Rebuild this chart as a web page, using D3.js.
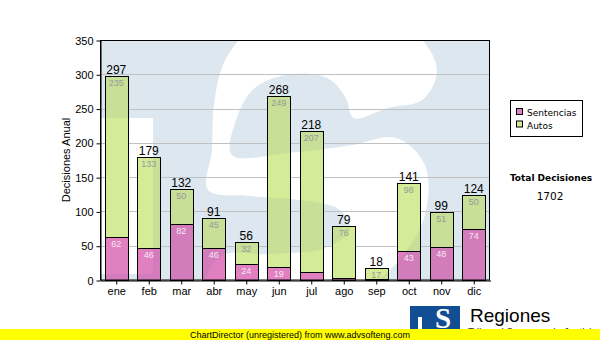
<!DOCTYPE html>
<html>
<head>
<meta charset="utf-8">
<script src="https://cdn.jsdelivr.net/npm/d3@7/dist/d3.min.js"></script>
<style>
  html, body { margin: 0; padding: 0; background: #ffffff; }
  svg { display: block; }
  text { font-family: "Liberation Sans", Arial, sans-serif; }
</style>
</head>
<body>
<svg id="chart" width="600" height="340"></svg>
<script>
// Monthly decisions, split by type
const months = ["ene", "feb", "mar", "abr", "may", "jun", "jul", "ago", "sep", "oct", "nov", "dic"];
const sentencias = [62, 46, 82, 46, 24, 19, 11, 3, 1, 43, 48, 74];
const autos = [235, 133, 50, 45, 32, 249, 207, 76, 17, 98, 51, 50];
const seriesNames = ["Sentencias", "Autos"];
const yTicks = [0, 50, 100, 150, 200, 250, 300, 350];
const totalLabel = "Total Decisiones";

const totals = months.map((m, i) => sentencias[i] + autos[i]);
const grandTotal = d3.sum(totals);

const W = 600, H = 340;
const plot = { left: 100, right: 490, top: 40, bottom: 280 };
const colors = { sentencias: "#e080c0", autos: "#d4eb98", wash: "#dde7f0" };

const svg = d3.select("#chart");
const defs = svg.append("defs");

const x = d3.scaleBand().domain(months).range([plot.left, plot.right])
  .paddingInner(0.28).paddingOuter(0.14);
const y = d3.scaleLinear().domain([0, 350]).range([plot.bottom, plot.top]);

// Background logo watermark: light wash with a white "S" and a white band cut out
const pw = plot.right - plot.left, ph = plot.bottom - plot.top;
const px = fx => plot.left + fx * pw, py = fy => plot.top + fy * ph;
const sOutline = [
  [0.650,0.325],[0.738,0.283],[0.826,0.250],[0.864,0.125],[0.813,-0.021],[0.667,-0.133],
  [0.513,-0.158],[0.397,-0.063],[0.321,0.083],[0.292,0.271],[0.287,0.458],[0.277,0.625],
  [0.385,0.650],[0.513,0.667],[0.615,0.708],[0.641,0.792],[0.577,0.867],[0.436,0.892],
  [0.310,0.900],[0.270,1.042],[0.410,1.104],[0.615,1.083],[0.756,0.938],[0.833,0.729],
  [0.833,0.521],[0.760,0.408],[0.640,0.440],[0.487,0.470],[0.338,0.479],[0.349,0.333],
  [0.397,0.200],[0.492,0.142],[0.585,0.160],[0.630,0.240]
];
const bandRect = { x0: 0, x1: 0.136, y0: 0.325, y1: 0.975 };

const clip = defs.append("clipPath").attr("id", "plotClip");
clip.append("rect").attr("x", plot.left).attr("y", plot.top).attr("width", pw).attr("height", ph);

const mask = defs.append("mask").attr("id", "washMask")
  .attr("maskUnits", "userSpaceOnUse").attr("x", 0).attr("y", 0).attr("width", W).attr("height", H);
mask.append("rect").attr("x", plot.left).attr("y", plot.top).attr("width", pw).attr("height", ph).attr("fill", "#fff");
mask.append("rect")
  .attr("x", px(bandRect.x0)).attr("y", py(bandRect.y0))
  .attr("width", px(bandRect.x1) - px(bandRect.x0)).attr("height", py(bandRect.y1) - py(bandRect.y0))
  .attr("fill", "#000");
mask.append("path")
  .attr("d", d3.line().x(d => px(d[0])).y(d => py(d[1])).curve(d3.curveCatmullRomClosed.alpha(0.5))(sOutline))
  .attr("fill", "#000");

const plotG = svg.append("g").attr("clip-path", "url(#plotClip)");
plotG.append("rect")
  .attr("x", plot.left).attr("y", plot.top).attr("width", pw).attr("height", ph)
  .attr("fill", colors.wash).attr("mask", "url(#washMask)");

// Horizontal grid
plotG.selectAll("line.grid").data(yTicks.filter(v => v > 0 && v < 350)).join("line")
  .attr("class", "grid")
  .attr("x1", plot.left).attr("x2", plot.right)
  .attr("y1", d => Math.round(y(d)) + 0.5).attr("y2", d => Math.round(y(d)) + 0.5)
  .attr("stroke", "#c0c0c0").attr("stroke-width", 1);

// Stacked bars
const bx = d => Math.round(x(d)) + 0.5;
const bw = Math.round(x.bandwidth());
const rows = months.map((m, i) => ({ m, s: sentencias[i], a: autos[i], t: totals[i] }));
const segs = [];
rows.forEach(r => {
  segs.push({ m: r.m, y0: 0, y1: r.s, fill: colors.sentencias });
  segs.push({ m: r.m, y0: r.s, y1: r.s + r.a, fill: colors.autos });
});
const barG = svg.append("g");
barG.selectAll("rect").data(segs).join("rect")
  .attr("x", d => bx(d.m)).attr("width", bw)
  .attr("y", d => Math.round(y(d.y1)) + 0.5)
  .attr("height", d => Math.round(y(d.y0)) - Math.round(y(d.y1)))
  .attr("fill", d => d.fill).attr("stroke", "#000").attr("stroke-width", 1);

// Watermark tint showing through the bars
svg.append("g").attr("mask", "url(#washMask)")
  .selectAll("rect").data(segs).join("rect")
  .attr("x", d => bx(d.m) + 0.5).attr("width", bw - 1)
  .attr("y", d => Math.round(y(d.y1)) + 1)
  .attr("height", d => Math.max(0, Math.round(y(d.y0)) - Math.round(y(d.y1)) - 1))
  .attr("fill", "#1a4a80").attr("fill-opacity", 0.07);

// Segment value labels
const cx = d => x(d) + x.bandwidth() / 2;
svg.append("g").selectAll("text").data(rows.filter(r => r.a >= 10)).join("text")
  .attr("x", d => cx(d.m)).attr("y", d => y(d.t) + 10)
  .attr("text-anchor", "middle").attr("font-size", "9px").attr("fill", "#999999")
  .text(d => d.a);
svg.append("g").selectAll("text").data(rows.filter(r => r.s >= 15)).join("text")
  .attr("x", d => cx(d.m)).attr("y", d => y(d.s) + 10)
  .attr("text-anchor", "middle").attr("font-size", "9px").attr("fill", "#f8e6f3")
  .text(d => d.s);

// Totals above bars
svg.append("g").selectAll("text").data(rows).join("text")
  .attr("x", d => cx(d.m)).attr("y", d => y(d.t) - 2)
  .attr("text-anchor", "middle").attr("font-size", "12px").attr("fill", "#000")
  .text(d => d.t);

// Plot frame
svg.append("rect")
  .attr("x", plot.left + 0.5).attr("y", plot.top + 0.5)
  .attr("width", pw - 1).attr("height", ph - 0.5)
  .attr("fill", "none").attr("stroke", "#000").attr("stroke-width", 1);

// Axes
const yAxis = svg.append("g").attr("transform", `translate(${plot.left + 0.5},0.5)`)
  .call(d3.axisLeft(y).tickValues(yTicks).tickSize(4).tickSizeOuter(0).tickPadding(3));
yAxis.selectAll("text").attr("font-size", "11px").attr("fill", "#000")
  .style("font-family", "'Liberation Sans', Arial, sans-serif");
yAxis.selectAll("line, path").attr("stroke", "#000");

const xAxis = svg.append("g").attr("transform", `translate(0.5,${plot.bottom + 0.5})`)
  .call(d3.axisBottom(x).tickSize(4).tickSizeOuter(0).tickPadding(3));
xAxis.selectAll("text").attr("font-size", "11px").attr("fill", "#000")
  .style("font-family", "'Liberation Sans', Arial, sans-serif");
xAxis.selectAll("line, path").attr("stroke", "#000");

svg.append("text")
  .attr("transform", `translate(70,${(plot.top + plot.bottom) / 2}) rotate(-90)`)
  .attr("text-anchor", "middle").attr("font-size", "11px").attr("fill", "#000")
  .text("Decisiones Anual");

// Legend
const lg = svg.append("g").attr("transform", "translate(510.5,100.5)");
lg.append("rect").attr("width", 72).attr("height", 36).attr("fill", "#fff").attr("stroke", "#000");
const legendColors = [colors.sentencias, colors.autos];
seriesNames.forEach((name, i) => {
  lg.append("rect").attr("x", 6).attr("y", 8 + i * 12.5).attr("width", 6).attr("height", 6)
    .attr("fill", legendColors[i]).attr("stroke", "#000");
  lg.append("text").attr("x", 16.5).attr("y", 15.5 + i * 12.5)
    .attr("font-size", "9px").style("font-family", "'DejaVu Sans', Verdana, sans-serif")
    .attr("fill", "#000").text(name);
});

// Grand total
svg.append("text").attr("x", 551).attr("y", 181).attr("text-anchor", "middle")
  .attr("font-size", "9px").attr("font-weight", "bold")
  .style("font-family", "'DejaVu Sans', Verdana, sans-serif").text(totalLabel);
svg.append("text").attr("x", 550).attr("y", 199.5).attr("text-anchor", "middle")
  .attr("font-size", "10.5px").style("font-family", "'DejaVu Sans', Verdana, sans-serif")
  .text(grandTotal);

// Footer logo
const logo = svg.append("g");
logo.append("rect").attr("x", 410).attr("y", 306).attr("width", 50).attr("height", 34).attr("fill", "#124e93");
logo.append("rect").attr("x", 418).attr("y", 317).attr("width", 4).attr("height", 23).attr("fill", "#fff");
logo.append("text").attr("x", 443).attr("y", 328).attr("text-anchor", "middle")
  .attr("font-size", "29px").attr("font-weight", "bold")
  .style("font-family", "'Liberation Serif', 'DejaVu Serif', serif")
  .attr("fill", "#fff").text("S");
logo.append("text").attr("x", 470).attr("y", 322).attr("font-size", "19px").attr("fill", "#000").text("Regiones");
logo.append("text").attr("x", 468).attr("y", 336).attr("font-size", "10px").attr("fill", "#333")
  .text("Tribunal Supremo de Justicia");

// Footer banner
svg.append("rect").attr("x", 0).attr("y", 329).attr("width", W).attr("height", 11).attr("fill", "#ffff00");
svg.append("text").attr("x", 300).attr("y", 337.5).attr("text-anchor", "middle")
  .attr("font-size", "9px").attr("fill", "#000")
  .text("ChartDirector (unregistered) from www.advsofteng.com");
</script>
</body>
</html>
